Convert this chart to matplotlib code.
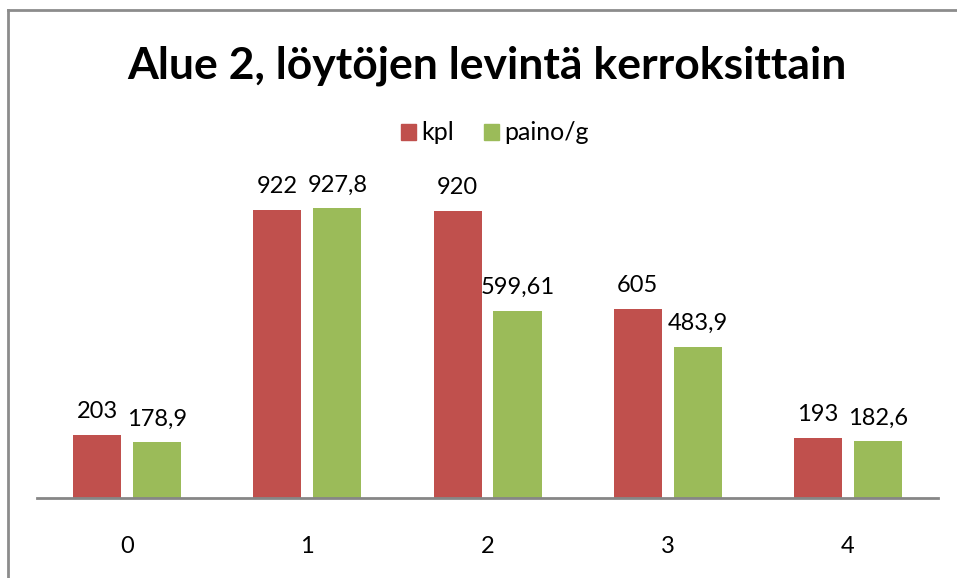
import numpy as np
import matplotlib.pyplot as plt
from matplotlib.lines import Line2D
from matplotlib.patches import Patch

# kerrokset ja arvot
categories = ['0', '1', '2', '3', '4']
kpl = [203, 922, 920, 605, 193]
paino = [178.9, 927.8, 599.61, 483.9, 182.6]
kpl_labels = ['203', '922', '920', '605', '193']
paino_labels = ['178,9', '927,8', '599,61', '483,9', '182,6']

red = '#C0504D'
green = '#9BBB59'
plt.rcParams['font.family'] = ['Lato', 'DejaVu Sans']

fig = plt.figure(figsize=(9.57, 5.78), dpi=100)
ax = fig.add_axes([0.0387, 0.1384, 0.9415, 0.5405])

x = np.arange(len(categories))
w = 0.267
off = 0.166
b1 = ax.bar(x - off, kpl, w, color=red)
b2 = ax.bar(x + off, paino, w, color=green)

for bars, labs in ((b1, kpl_labels), (b2, paino_labels)):
    for r, t in zip(bars, labs):
        ax.annotate(t, (r.get_x() + r.get_width() / 2, r.get_height()),
                    xytext=(0, 9), textcoords='offset points',
                    ha='center', va='bottom', fontsize=17, color='#000000')

ax.set_xlim(-0.5, 4.5)
ax.set_ylim(0, 1000)
ax.set_xticks(x)
ax.set_xticklabels(categories, fontsize=17)
ax.tick_params(axis='x', length=0, pad=27)
ax.set_yticks([])
for s in ['top', 'right', 'left']:
    ax.spines[s].set_visible(False)
ax.spines['bottom'].set_color('#868686')
ax.spines['bottom'].set_linewidth(2)

fig.text(0.509, 0.887, 'Alue 2, löytöjen levintä kerroksittain',
         ha='center', va='center', fontsize=32, fontweight='bold')

handles = [Patch(color=red, label='kpl'), Patch(color=green, label='paino/g')]
fig.legend(handles=handles, loc='center', bbox_to_anchor=(0.517, 0.77), ncol=2,
           frameon=False, fontsize=18, handlelength=0.6, handleheight=0.6,
           handletextpad=0.2, columnspacing=1.2)

# reunaviivat
fig.add_artist(Line2D([0.0084, 1.0], [0.983, 0.983], transform=fig.transFigure,
                      color='#8C8C8C', lw=2))
fig.add_artist(Line2D([0.0084, 0.0084], [0.0, 0.983], transform=fig.transFigure,
                      color='#8C8C8C', lw=2))

fig.savefig('out.png', dpi=100)
